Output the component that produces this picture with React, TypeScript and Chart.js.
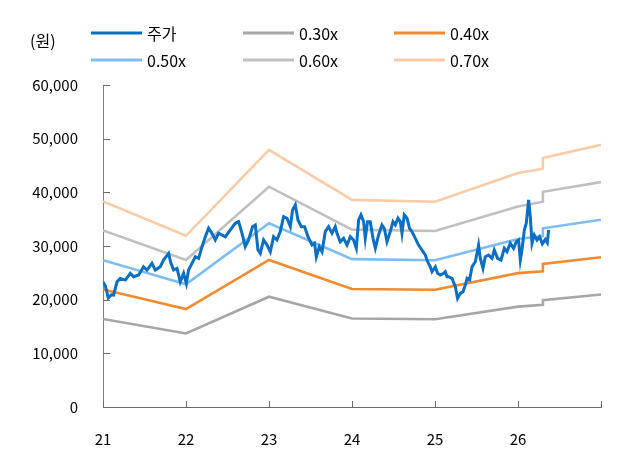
import React, { useEffect, useRef } from 'react';
import { Chart, registerables } from 'chart.js';

Chart.register(...registerables);

const FONT = '"Noto Sans CJK KR", "Noto Sans", sans-serif';

const unitLabel = '(원)';
const yTickValues = [0, 10000, 20000, 30000, 40000, 50000, 60000];
const xTickValues = [21, 22, 23, 24, 25, 26, 27];
const xTickLabels = ['21', '22', '23', '24', '25', '26', ''];

const seriesLabels = ['주가', '0.30x', '0.40x', '0.50x', '0.60x', '0.70x'];
const seriesColors = ['#0A6FC2', '#A6A6A6', '#F28A30', '#7EBDF3', '#C0C0C0', '#F9CBA7'];

const bandYears = [21, 22, 23, 24, 25, 26, 26.3, 26.3, 27];
const band030 = [16400, 13700, 20550, 16500, 16350, 18700, 19050, 19900, 20950];
const band040 = [21900, 18250, 27400, 22000, 21850, 24950, 25300, 26650, 27900];
const band050 = [27350, 22850, 34250, 27550, 27350, 31300, 31850, 33300, 34900];
const band060 = [32900, 27400, 41050, 33050, 32800, 37350, 38250, 40100, 41900];
const band070 = [38300, 31900, 47900, 38600, 38250, 43600, 44400, 46400, 48850];

const priceYears = [
  21.0, 21.028, 21.064, 21.1, 21.128, 21.169, 21.208, 21.269, 21.329, 21.369,
  21.429, 21.489, 21.53, 21.59, 21.63, 21.69, 21.73, 21.79, 21.819, 21.851,
  21.892, 21.931, 21.971, 22.004, 22.031, 22.072, 22.112, 22.152, 22.193, 22.233,
  22.272, 22.313, 22.353, 22.393, 22.474, 22.534, 22.594, 22.634, 22.675, 22.714,
  22.754, 22.802, 22.835, 22.867, 22.895, 22.935, 22.976, 23.016, 23.055, 23.096,
  23.136, 23.176, 23.217, 23.257, 23.284, 23.317, 23.349, 23.389, 23.429, 23.47,
  23.518, 23.549, 23.57, 23.606, 23.639, 23.678, 23.718, 23.759, 23.798, 23.819,
  23.859, 23.899, 23.94, 23.98, 24.019, 24.052, 24.08, 24.108, 24.14, 24.16,
  24.188, 24.22, 24.253, 24.281, 24.32, 24.361, 24.389, 24.422, 24.461, 24.494,
  24.522, 24.554, 24.582, 24.602, 24.63, 24.663, 24.694, 24.723, 24.763, 24.802,
  24.843, 24.883, 24.911, 24.943, 24.964, 25.004, 25.031, 25.064, 25.104, 25.124,
  25.145, 25.164, 25.205, 25.245, 25.272, 25.305, 25.337, 25.365, 25.386, 25.417,
  25.446, 25.486, 25.525, 25.546, 25.578, 25.606, 25.646, 25.687, 25.714, 25.754,
  25.795, 25.835, 25.867, 25.907, 25.947, 25.98, 26.007, 26.028, 26.048, 26.076,
  26.1, 26.128, 26.148, 26.169, 26.196, 26.229, 26.26, 26.293, 26.329, 26.353,
  26.369
];
const priceValues = [
  23300, 22600, 20300, 20900, 20850, 23330, 23960, 23650, 24900, 24270,
  24590, 26130, 25520, 26770, 25520, 26130, 27380, 28630, 26770, 25520,
  25830, 23330, 24900, 23030, 25520, 26770, 28000, 27700, 29870, 31730,
  33300, 32370, 31120, 32370, 31730, 32990, 34230, 34540, 32370, 29870,
  31120, 33600, 33920, 29250, 28630, 31120, 30180, 28930, 31730, 31120,
  32670, 35470, 35170, 33600, 36720, 37650, 34850, 33600, 33600, 31730,
  30180, 30500, 28000, 29870, 28930, 32670, 33600, 32370, 33600, 32370,
  30800, 31430, 30180, 31730, 31120, 29570, 34850, 35790, 34540, 31430,
  34540, 34540, 31430, 29570, 32060, 33920, 33300, 30800, 32670, 34540,
  33920, 35170, 34540, 32370, 35790, 35170, 33300, 32670, 31430, 30180,
  29250, 28320, 27070, 26130, 25200, 26130, 24900, 24590, 24900, 25200,
  24270, 24270, 23960, 22400, 20240, 21170, 21470, 22720, 23960, 23650,
  26130, 27070, 30180, 27700, 25830, 28000, 28320, 27700, 29250, 27700,
  27380, 29570, 28930, 30500, 29570, 30800, 31120, 27380, 29250, 32990,
  34230, 38590, 35470, 30500, 32060, 31120, 31730, 30400, 31200, 30600,
  33000
];

const toPoints = (xs: number[], ys: number[]) => xs.map((x, i) => ({ x, y: ys[i] }));

const legendCols = [91, 243, 394];
const legendRows = [33, 60];

const decorPlugin = {
  id: 'decor',
  afterDraw(chart: any) {
    const ctx = chart.ctx as CanvasRenderingContext2D;
    const { left, bottom } = chart.chartArea;
    const xs = chart.scales.x;
    const ys = chart.scales.y;
    ctx.save();
    ctx.strokeStyle = '#6b6b6b';
    ctx.lineWidth = 1;
    yTickValues.forEach((v) => {
      const y = Math.round(ys.getPixelForValue(v)) + 0.5;
      ctx.beginPath();
      ctx.moveTo(left, y);
      ctx.lineTo(left + 7, y);
      ctx.stroke();
    });
    xTickValues.forEach((v) => {
      const x = Math.round(xs.getPixelForValue(v)) + 0.5;
      ctx.beginPath();
      ctx.moveTo(x, bottom);
      ctx.lineTo(x, bottom - 6);
      ctx.stroke();
    });
    ctx.fillStyle = '#000';
    ctx.font = `16px ${FONT}`;
    ctx.textBaseline = 'middle';
    ctx.textAlign = 'left';
    ctx.fillText(unitLabel, 30, 41);
    seriesLabels.forEach((label, i) => {
      const col = i % 3;
      const row = Math.floor(i / 3);
      const x0 = legendCols[col];
      const y = legendRows[row];
      ctx.strokeStyle = seriesColors[i];
      ctx.lineWidth = 3;
      ctx.beginPath();
      ctx.moveTo(x0, y);
      ctx.lineTo(x0 + 51, y);
      ctx.stroke();
      ctx.fillStyle = '#000';
      ctx.fillText(label, x0 + 56, y + 1);
    });
    ctx.restore();
  },
};

export default function App() {
  const canvasRef = useRef<HTMLCanvasElement | null>(null);

  useEffect(() => {
    if (!canvasRef.current) return;
    const bandData = [band030, band040, band050, band060, band070];
    const datasets: any[] = [
      {
        label: seriesLabels[0],
        data: toPoints(priceYears, priceValues),
        borderColor: seriesColors[0],
        borderWidth: 3,
        pointRadius: 0,
        tension: 0,
      },
      ...bandData.map((d, i) => ({
        label: seriesLabels[i + 1],
        data: toPoints(bandYears, d),
        borderColor: seriesColors[i + 1],
        borderWidth: 2.6,
        pointRadius: 0,
        tension: 0,
      })),
    ];
    const chart = new Chart(canvasRef.current, {
      type: 'line',
      data: { datasets },
      plugins: [decorPlugin],
      options: {
        animation: false,
        responsive: true,
        maintainAspectRatio: false,
        layout: { padding: { top: 85, right: 29, left: 0, bottom: 0 } },
        plugins: { legend: { display: false }, tooltip: { enabled: false } },
        scales: {
          x: {
            type: 'linear',
            min: 21,
            max: 27,
            afterFit: (s: any) => { s.height = 51; },
            grid: { display: false, drawTicks: false },
            border: { display: true, color: '#6b6b6b', width: 1 },
            ticks: {
              stepSize: 1,
              autoSkip: false,
              maxRotation: 0,
              padding: 23,
              color: '#000',
              font: { family: FONT, size: 15 },
              callback: (v: any) => {
                const idx = xTickValues.indexOf(Number(v));
                return idx >= 0 ? xTickLabels[idx] : '';
              },
            },
          },
          y: {
            min: 0,
            max: 60000,
            afterFit: (s: any) => { s.width = 103; },
            grid: { display: false, drawTicks: false },
            border: { display: true, color: '#808080', width: 1 },
            ticks: {
              stepSize: 10000,
              padding: 25,
              color: '#000',
              font: { family: FONT, size: 15 },
              callback: (v: any) => Number(v).toLocaleString('en-US'),
            },
          },
        },
      },
    });
    return () => chart.destroy();
  }, []);

  return (
    <div style={{ position: 'absolute', left: 0, top: 0, width: 630, height: 458 }}>
      <canvas ref={canvasRef} />
    </div>
  );
}
